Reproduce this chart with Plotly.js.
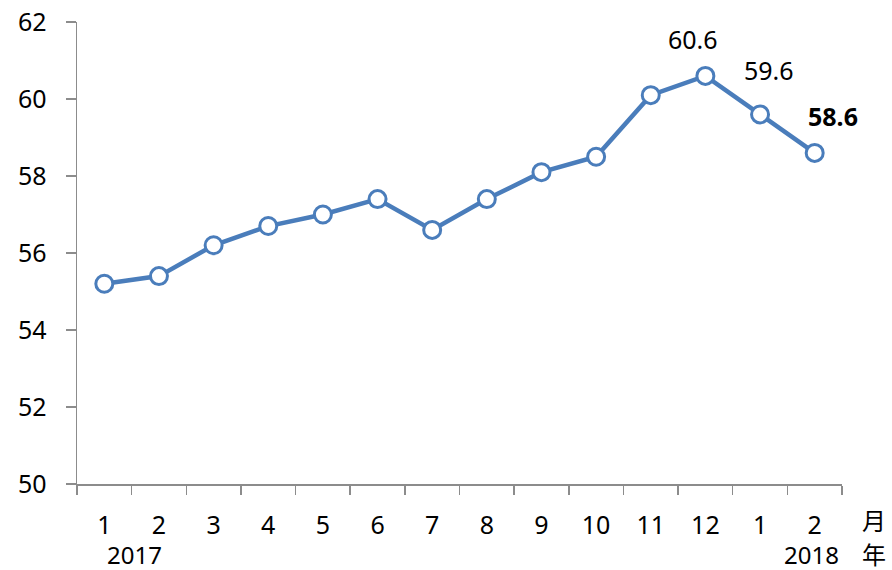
<!DOCTYPE html>
<html>
<head>
<meta charset="utf-8">
<script src="https://cdn.plot.ly/plotly-3.0.1.min.js"></script>
<style>html,body{margin:0;padding:0;background:#fff;}#chart{width:892px;height:570px;}</style>
</head>
<body>
<div id="chart"></div>
<script>
var months = ["1","2","3","4","5","6","7","8","9","10","11","12","1","2"];
var values = [55.2, 55.4, 56.2, 56.7, 57.0, 57.4, 56.6, 57.4, 58.1, 58.5, 60.1, 60.6, 59.6, 58.6];
var years = ["2017", "2018"];
var yearPos = [0.55, 12.95];
var labelIdx = [11, 12, 13];
var unitMonth = "月";
var unitYear = "年";

var xs = months.map(function(_, i){ return i; });
var FONT = '"Noto Sans", "Noto Sans CJK TC", sans-serif';
var FS = 25;
var BLUE = '#4a7dbb';
var AX = '#8c8c8c';

var trace = {
  x: xs, y: values, type: 'scatter', mode: 'lines+markers',
  line: {color: BLUE, width: 4.5},
  marker: {size: 17, color: '#ffffff', line: {color: BLUE, width: 3}},
  hoverinfo: 'skip'
};

var ann = [];
var shifts = [[-12, 37], [9, 44], [18, 37]];
labelIdx.forEach(function(idx, k){
  ann.push({x: idx, y: values[idx], xref: 'x', yref: 'y',
    text: k === labelIdx.length - 1 ? '<b>' + values[idx].toFixed(1) + '</b>' : values[idx].toFixed(1),
    showarrow: false, xshift: shifts[k][0], yshift: shifts[k][1],
    font: {family: FONT, size: FS, color: '#000'}});
});
years.forEach(function(yr, k){
  ann.push({x: yearPos[k], y: 0, xref: 'x', yref: 'paper', yanchor: 'middle',
    yshift: -70, text: yr, showarrow: false,
    font: {family: FONT, size: 24, color: '#000'}});
});
ann.push({x: 1, xref: 'paper', xanchor: 'left', xshift: 18, y: 0, yref: 'paper', yanchor: 'middle', yshift: -36,
  text: unitMonth, showarrow: false, font: {family: FONT, size: 24, color: '#000'}});
ann.push({x: 1, xref: 'paper', xanchor: 'left', xshift: 18, y: 0, yref: 'paper', yanchor: 'middle', yshift: -70,
  text: unitYear, showarrow: false, font: {family: FONT, size: 24, color: '#000'}});

var layout = {
  width: 892, height: 570,
  margin: {l: 77, r: 50, t: 22, b: 86},
  paper_bgcolor: '#fff', plot_bgcolor: '#fff',
  showlegend: false,
  font: {family: FONT, size: FS, color: '#000'},
  xaxis: {
    range: [-0.5, 13.5], tickvals: xs, ticktext: months,
    ticks: '', showgrid: false, zeroline: false,
    showline: true, linecolor: AX, linewidth: 1.5,
    ticklabelstandoff: 18,
    tickfont: {family: FONT, size: FS, color: '#000'},
    minor: {ticks: 'outside', tick0: -0.5, dtick: 1, ticklen: 9, tickcolor: AX, tickwidth: 1.5, showgrid: false}
  },
  yaxis: {
    range: [50, 62], dtick: 2, tick0: 50,
    ticks: 'outside', ticklen: 10, tickcolor: AX, tickwidth: 1.5,
    showgrid: false, zeroline: false,
    showline: true, linecolor: AX, linewidth: 1.5,
    ticklabelstandoff: 14,
    tickfont: {family: FONT, size: FS, color: '#000'}
  },
  annotations: ann
};

Plotly.newPlot('chart', [trace], layout, {displayModeBar: false, staticPlot: true});
</script>
</body>
</html>
